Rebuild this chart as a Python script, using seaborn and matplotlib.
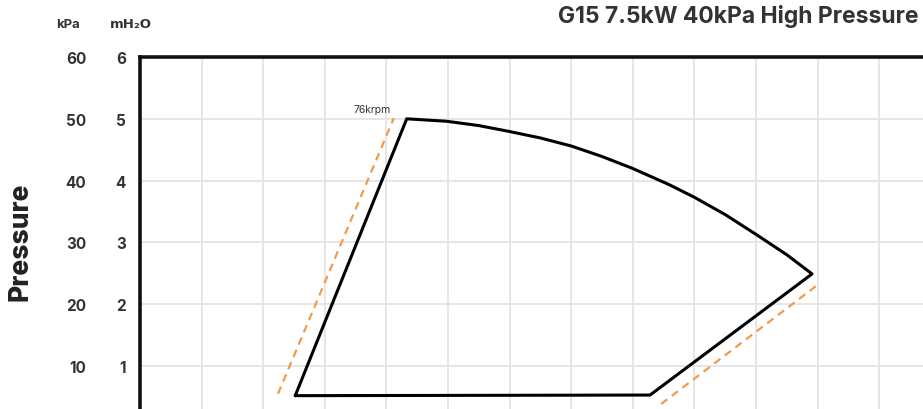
import matplotlib
matplotlib.use("Agg")
import matplotlib.pyplot as plt
import seaborn as sns
import pandas as pd

# envelope (x in grid units of flow, y in mH2O)
env_x = [2.52, 4.33, 4.98, 5.50, 5.97, 6.50, 7.00, 7.50, 7.99, 8.60, 9.00, 9.50, 10.00, 10.50, 10.91, 8.28, 2.52]
env_y = [0.52, 5.00, 4.96, 4.89, 4.80, 4.69, 4.56, 4.39, 4.20, 3.93, 3.73, 3.45, 3.13, 2.80, 2.49, 0.53, 0.52]
left_dash_x = [2.24, 4.12]
left_dash_y = [0.55, 5.01]
right_dash_x = [8.46, 10.97]
right_dash_y = [0.385, 2.29]
mh2o_ticks = [1, 2, 3, 4, 5, 6]
kpa_ticks = [10, 20, 30, 40, 50, 60]
x_grid = list(range(0, 14))
title = "G15 7.5kW 40kPa High Pressure"
speed_label = "76krpm"

sns.set_theme(style="white")
plt.rcParams['font.family'] = ['Inter', 'DejaVu Sans']

fig = plt.figure(figsize=(9.23, 4.10), dpi=100)
ax = fig.add_axes([140/923, (410-428.8)/410, 13*61.6/923, 370.8/410])

df_env = pd.DataFrame({"x": env_x, "y": env_y})
sns.lineplot(data=df_env, x="x", y="y", sort=False, estimator=None, color="black", lw=2.2, ax=ax, zorder=3)
for xs, ys in [(left_dash_x, left_dash_y), (right_dash_x, right_dash_y)]:
    d = pd.DataFrame({"x": xs, "y": ys})
    sns.lineplot(data=d, x="x", y="y", sort=False, estimator=None, color="#F39A4C", lw=1.6,
                 ax=ax, zorder=2, dashes=False, linestyle=(0, (3.5, 2.5)))

ax.set_xlim(0, 13)
ax.set_ylim(0, 6)
ax.set_xticks(x_grid)
ax.set_xticklabels([])
ax.set_yticks(mh2o_ticks)
ax.set_yticklabels([str(t) for t in mh2o_ticks], fontsize=11, fontweight="bold", color="#333333")
ax.tick_params(axis="y", direction="in", length=7, width=1.2, color="#bbbbbb", pad=10)
ax.tick_params(axis="x", length=0)
ax.grid(True, color="#e4e4e4", lw=1.3)
ax.set_xlabel("")
ax.set_ylabel("")
for s in ["left", "top"]:
    ax.spines[s].set_color("#111111")
    ax.spines[s].set_linewidth(2.6)
for s in ["right", "bottom"]:
    ax.spines[s].set_visible(False)

sec = ax.secondary_yaxis(-0.067, functions=(lambda v: v * 10, lambda v: v / 10))
sec.set_yticks(kpa_ticks)
sec.set_yticklabels([str(t) for t in kpa_ticks], fontsize=11, fontweight="bold", color="#333333")
sec.tick_params(length=0, pad=0)
sec.spines["left"].set_visible(False)

ax.text(3.77, 5.16, speed_label, fontsize=7.5, color="#333333", ha="center", va="center")

fig.text(68/923, 1-25/410, "kPa", fontsize=9.5, fontweight="bold", color="#333333", ha="center", va="center")
fig.text(131/923, 1-25/410, "mH₂O", fontsize=9.5, fontweight="bold", color="#333333", ha="center", va="center",
         family=['DejaVu Sans'])
fig.text(21/923, 1-242/410, "Pressure", fontsize=19, fontweight="heavy", color="#222222", rotation=90,
         ha="center", va="center")
fig.text(918/923, 1-17/410, title, fontsize=16.5, fontweight="bold", color="#333333", ha="right", va="center")

fig.savefig("out.png", dpi=100)
